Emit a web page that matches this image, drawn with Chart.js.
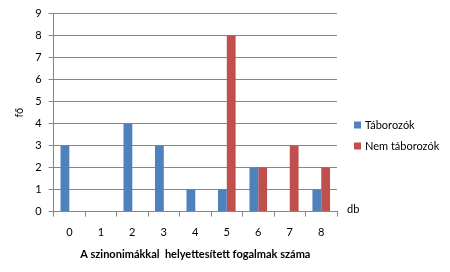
<!DOCTYPE html>
<html><head><meta charset="utf-8">
<script src="https://cdn.jsdelivr.net/npm/chart.js@4/dist/chart.umd.min.js"></script>
<style>html,body{margin:0;padding:0;background:#fff}#wrap{width:450px;height:272px}</style>
</head><body><div id="wrap"><canvas id="c" width="450" height="272"></canvas></div>
<script>
const categories = ['0','1','2','3','4','5','6','7','8'];
const taborozok = [3,0,4,3,1,1,2,0,1];
const nemTaborozok = [0,0,0,0,0,8,2,3,2];
const seriesNames = ['Táborozók','Nem táborozók'];
const yTitle = 'fő';
const xTitle = 'A szinonimákkal  helyettesített fogalmak száma';
const xUnit = 'db';
const FONT = 'Lato';

const sidePlugin = {
  id:'side',
  afterDraw(chart){
    const ctx = chart.ctx;
    ctx.save();
    ctx.font = '11px ' + FONT;
    ctx.textBaseline = 'middle';
    ctx.textAlign = 'left';
    chart.data.datasets.forEach((ds,i)=>{
      const y = 125 + i*21;
      ctx.fillStyle = ds.backgroundColor;
      ctx.fillRect(354, y-3.5, 7, 7);
      ctx.fillStyle = '#000';
      ctx.fillText(ds.label, 365, y);
    });
    ctx.fillText(xUnit, 347, chart.scales.y.getPixelForValue(0) - 2);
    ctx.restore();
  }
};

new Chart(document.getElementById('c'), {
  type:'bar',
  data:{labels:categories, datasets:[
    {label:seriesNames[0], data:taborozok, backgroundColor:'#4F81BD', categoryPercentage:0.56, barPercentage:1},
    {label:seriesNames[1], data:nemTaborozok, backgroundColor:'#C0504D', categoryPercentage:0.56, barPercentage:1}
  ]},
  plugins:[sidePlugin],
  options:{
    responsive:false, animation:false, devicePixelRatio:1,
    layout:{padding:{left:13,right:113,top:2,bottom:11}},
    plugins:{legend:{display:false}, tooltip:{enabled:false}},
    scales:{
      x:{
        grid:{drawOnChartArea:false, offset:true, tickLength:5, color:'#868686'},
        border:{color:'#868686'},
        ticks:{color:'#000', font:{family:FONT,size:11}, padding:9},
        title:{display:true, text:xTitle, color:'#000', font:{family:FONT,size:11,weight:'bold'}, padding:{top:0,bottom:0}}
      },
      y:{
        min:0, max:9,
        grid:{color:'#868686', tickLength:5},
        border:{color:'#868686'},
        ticks:{stepSize:1, color:'#000', font:{family:FONT,size:11}, padding:7},
        title:{display:true, text:yTitle, color:'#000', font:{family:FONT,size:11}, padding:{top:0,bottom:2}}
      }
    }
  }
});
</script></body></html>
